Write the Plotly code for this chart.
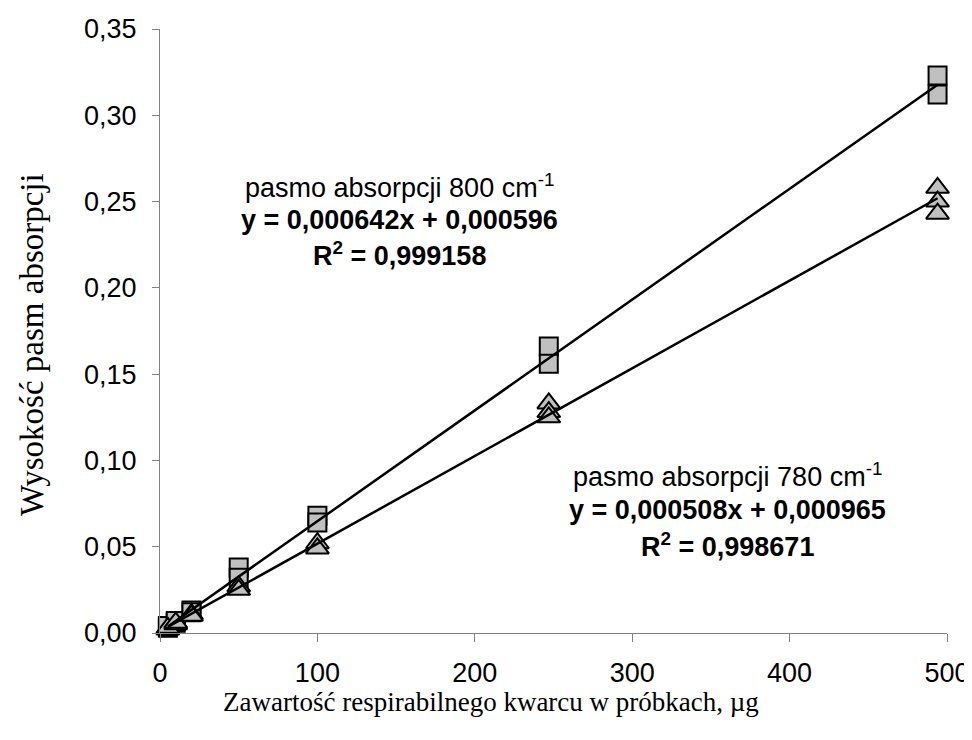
import plotly.graph_objects as go

# Data
x_800 = [5, 5, 10, 10, 20, 20, 50, 50, 100, 100, 247, 247, 494, 494]
y_800 = [0.003, 0.004, 0.006, 0.007, 0.013, 0.012, 0.038, 0.032, 0.068, 0.064, 0.166, 0.156, 0.323, 0.312]
x_780 = [5, 5, 10, 10, 20, 20, 50, 50, 100, 100, 247, 247, 247, 494, 494, 494]
y_780 = [0.002, 0.003, 0.005, 0.006, 0.011, 0.010, 0.027, 0.025, 0.052, 0.049, 0.133, 0.128, 0.125, 0.258, 0.250, 0.243]

# Trendline coefficients shown on the chart
slope_800, icpt_800 = 0.000642, 0.000596
slope_780, icpt_780 = 0.000508, 0.000965

x_ticks = [0, 100, 200, 300, 400, 500]
y_ticks = [0.00, 0.05, 0.10, 0.15, 0.20, 0.25, 0.30, 0.35]
y_tick_labels = ["0,00", "0,05", "0,10", "0,15", "0,20", "0,25", "0,30", "0,35"]

label_800 = ["pasmo absorpcji 800 cm<sup>-1</sup>", "<b>y = 0,000642x + 0,000596</b>", "<b>R<sup>2</sup> = 0,999158</b>"]
label_780 = ["pasmo absorpcji 780 cm<sup>-1</sup>", "<b>y = 0,000508x + 0,000965</b>", "<b>R<sup>2</sup> = 0,998671</b>"]

fig = go.Figure()

fig.add_trace(go.Scatter(
    x=x_800, y=y_800, mode="markers", cliponaxis=False,
    marker=dict(symbol="square", size=18, color="#c0c0c0", line=dict(color="black", width=2)),
    showlegend=False))
fig.add_trace(go.Scatter(
    x=x_780, y=y_780, mode="markers", cliponaxis=False,
    marker=dict(symbol="triangle-up", size=20, color="#c0c0c0", line=dict(color="black", width=2)),
    showlegend=False))

for xs, s, b in [(x_800, slope_800, icpt_800), (x_780, slope_780, icpt_780)]:
    lx = [min(xs), max(xs)]
    fig.add_trace(go.Scatter(
        x=lx, y=[s * v + b for v in lx], mode="lines", cliponaxis=False,
        line=dict(color="black", width=2.5), showlegend=False))

annots = []
for labels, px, pys in [(label_800, 0.3037, [0.740, 0.684, 0.6275]),
                        (label_780, 0.7205, [0.2616, 0.2036, 0.1457])]:
    for t, py in zip(labels, pys):
        annots.append(dict(text=t, x=px, y=py, xref="paper", yref="paper",
                           xanchor="center", yanchor="middle", showarrow=False,
                           font=dict(family="Liberation Sans, Arial", size=27, color="black")))

annots.append(dict(text="Zawartość respirabilnego kwarcu w próbkach, µg", x=0.4206, y=-0.1142,
                   xref="paper", yref="paper", xanchor="center", yanchor="middle", showarrow=False,
                   font=dict(family="Liberation Serif, Times New Roman", size=27, color="black")))
annots.append(dict(text="Wysokość pasm absorpcji", x=-0.1626, y=0.477, textangle=-90,
                   xref="paper", yref="paper", xanchor="center", yanchor="middle", showarrow=False,
                   font=dict(family="Liberation Serif, Times New Roman", size=33, color="black")))

fig.update_layout(
    width=964, height=732,
    margin=dict(l=152, r=25, t=21, b=107),
    paper_bgcolor="white", plot_bgcolor="white",
    annotations=annots,
    font=dict(family="Liberation Sans, Arial", size=27, color="black"),
    xaxis=dict(range=[0, 500], tickvals=x_ticks, ticks="outside", ticklen=8, tickcolor="#808080",
               showline=True, linecolor="#808080", linewidth=1, showgrid=False, zeroline=False,
               automargin=False, ticklabelstandoff=8, tickfont=dict(size=27)),
    yaxis=dict(range=[0, 0.35], tickvals=y_ticks, ticktext=y_tick_labels, ticks="outside", ticklen=7,
               tickcolor="#808080", showline=True, linecolor="#808080", linewidth=1, showgrid=False,
               zeroline=False, automargin=False, ticklabelstandoff=10, tickfont=dict(size=27)),
)

fig.write_html("out.html")
